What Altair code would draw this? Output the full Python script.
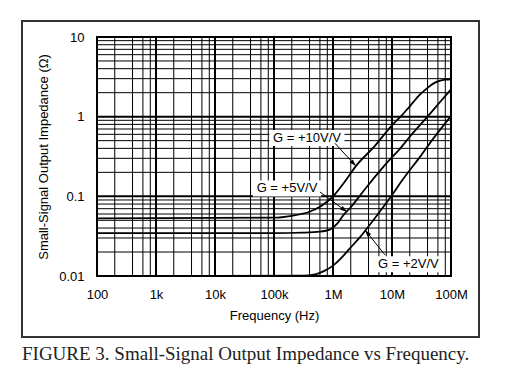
import json
import math
import altair as alt
import pandas as pd

# ---------------- data ----------------
freq_g10 = [1e2, 1e5, 2e5, 4e5, 6e5, 8e5, 1e6, 1.5e6, 2.5e6, 5e6, 1e7, 1.4e7, 2e7, 3e7, 4e7, 5e7, 6e7, 8e7, 1e8]
z_g10 = [0.053, 0.054, 0.057, 0.064, 0.074, 0.086, 0.100, 0.145, 0.245, 0.42, 0.78, 1.0, 1.35, 1.9, 2.3, 2.6, 2.78, 2.92, 2.95]

freq_g5 = [1e2, 1e5, 3e5, 6e5, 9e5, 1.2e6, 1.5e6, 2e6, 2.8e6, 4e6, 6.3e6, 1e7, 1.3e7, 2e7, 4e7, 6e7, 1e8]
z_g5 = [0.0345, 0.0345, 0.035, 0.036, 0.0385, 0.046, 0.058, 0.073, 0.1, 0.14, 0.21, 0.31, 0.38, 0.56, 1.0, 1.42, 2.2]

freq_g2 = [1e2, 3e5, 5e5, 7e5, 1e6, 1.4e6, 1.8e6, 2.9e6, 5e6, 1e7, 1.5e7, 3e7, 5e7, 1e8]
z_g2 = [0.0100, 0.0101, 0.0105, 0.0115, 0.0135, 0.017, 0.021, 0.031, 0.052, 0.104, 0.16, 0.315, 0.53, 1.02]

gain_names = ["G = +10V/V", "G = +5V/V", "G = +2V/V"]

x_tick_values = [1e2, 1e3, 1e4, 1e5, 1e6, 1e7, 1e8]
x_tick_labels = ["100", "1k", "10k", "100k", "1M", "10M", "100M"]
y_tick_values = [0.01, 0.1, 1, 10]
y_tick_labels = ["0.01", "0.1", "1", "10"]

x_title = "Frequency (Hz)"
y_title = "Small-Signal Output Impedance (\u03a9)"
caption = "FIGURE 3. Small-Signal Output Impedance vs Frequency."

# annotation anchors (in data units)
label_f = [3.62e5, 1.66e5, 1.89e7]
label_z = [0.541, 0.1256, 0.014]
arrow_start_f = [1.08e6, 6.0e5, 7.6e6]
arrow_start_z = [0.463, 0.1135, 0.0184]
arrow_end_f = [2.45e6, 1.73e6, 3.48e6]
arrow_end_z = [0.240, 0.0637, 0.0379]

# ---------------- tables ----------------
rows = []
for name, fs, zs in zip(gain_names, [freq_g10, freq_g5, freq_g2], [z_g10, z_g5, z_g2]):
    for f, z in zip(fs, zs):
        rows.append({"gain": name, "f": f, "z": z})
curves = pd.DataFrame(rows)

minor_x = [d * m for d in x_tick_values[:-1] for m in (2, 4, 6, 8)]
minor_y = [d * m for d in y_tick_values[:-1] for m in range(2, 10)]

grid_minor_x = pd.DataFrame({"f": minor_x})
grid_minor_y = pd.DataFrame({"z": minor_y})
grid_major_x = pd.DataFrame({"f": x_tick_values})
grid_major_y = pd.DataFrame({"z": y_tick_values})


def box_path(text):
    hw = (len(text) * 6.9 + 6) / 2 / 50.0
    hh = 8.0 / 50.0
    return f"M{-hw:.3f},{-hh:.3f}H{hw:.3f}V{hh:.3f}H{-hw:.3f}Z"


labels = pd.DataFrame({
    "text": gain_names, "f": label_f, "z": label_z,
    "box": [box_path(t) for t in gain_names],
})


def px(f):
    return (math.log10(f) - 2) * 59.0


def py(z):
    return (1 - math.log10(z)) * 79.7


angles = []
for sf, sz, ef, ez in zip(arrow_start_f, arrow_start_z, arrow_end_f, arrow_end_z):
    dx = px(ef) - px(sf)
    dy = py(ez) - py(sz)
    angles.append((math.degrees(math.atan2(dx, -dy)) + 360) % 360)

arrows = pd.DataFrame({
    "f": arrow_start_f, "z": arrow_start_z,
    "f2": arrow_end_f, "z2": arrow_end_z, "ang": angles,
})
one = pd.DataFrame({"k": [0]})

# ---------------- scales ----------------
xs = alt.Scale(type="log", domain=[1e2, 1e8], nice=False)
ys = alt.Scale(type="log", domain=[0.01, 10], nice=False)

x_expr = json.dumps(x_tick_labels) + "[round(log(datum.value)/LN10)-2]"
y_expr = json.dumps(y_tick_labels) + "[round(log(datum.value)/LN10)+2]"

FONT = "Liberation Sans"

x_axis = alt.Axis(values=x_tick_values, labelExpr=x_expr, title=x_title, grid=False, domain=False,
                  ticks=False, labelFlush=False, labelOverlap=False, labelPadding=12, titlePadding=8)
y_axis = alt.Axis(values=y_tick_values, labelExpr=y_expr, title=y_title, grid=False, domain=False,
                  ticks=False, labelOverlap=False, labelPadding=13, titlePadding=8)

curve_layer = alt.Chart(curves).mark_line(color="black", strokeWidth=1.8, interpolate="monotone").encode(
    x=alt.X("f:Q", scale=xs, axis=x_axis),
    y=alt.Y("z:Q", scale=ys, axis=y_axis),
    detail="gain:N",
)

minor_x_layer = alt.Chart(grid_minor_x).mark_rule(color="black", strokeWidth=1).encode(
    x=alt.X("f:Q", scale=xs))
minor_y_layer = alt.Chart(grid_minor_y).mark_rule(color="black", strokeWidth=1).encode(
    y=alt.Y("z:Q", scale=ys))
major_x_layer = alt.Chart(grid_major_x).mark_rule(color="black", strokeWidth=2).encode(
    x=alt.X("f:Q", scale=xs))
major_y_layer = alt.Chart(grid_major_y).mark_rule(color="black", strokeWidth=2).encode(
    y=alt.Y("z:Q", scale=ys))

box_layer = alt.Chart(labels).mark_point(filled=True, fill="white", opacity=1, strokeWidth=0).encode(
    x=alt.X("f:Q", scale=xs), y=alt.Y("z:Q", scale=ys),
    shape=alt.Shape("box:N", scale=None), size=alt.value(10000))
text_layer = alt.Chart(labels).mark_text(font=FONT, fontSize=13, color="black",
                                          align="center", baseline="middle").encode(
    x=alt.X("f:Q", scale=xs), y=alt.Y("z:Q", scale=ys), text="text:N")

arrow_line = alt.Chart(arrows).mark_rule(color="black", strokeWidth=1).encode(
    x=alt.X("f:Q", scale=xs), y=alt.Y("z:Q", scale=ys), x2="f2:Q", y2="z2:Q")
arrow_head = alt.Chart(arrows).mark_point(filled=True, fill="black", opacity=1, strokeWidth=0,
                                          shape="M0,0L-0.32,1L0.32,1Z").encode(
    x=alt.X("f2:Q", scale=xs), y=alt.Y("z2:Q", scale=ys),
    angle=alt.Angle("ang:Q", scale=None), size=alt.value(196))

frame = alt.Chart(one).mark_rect(fill="white", fillOpacity=0, stroke="#333333", strokeWidth=2).encode(
    x=alt.value(-75), x2=alt.value(382), y=alt.value(-16), y2=alt.value(300))
cap = alt.Chart(one).mark_text(font="Liberation Serif", fontSize=19, color="#222222",
                               align="left", baseline="alphabetic").encode(
    x=alt.value(-75), y=alt.value(323), text=alt.value(caption))

chart = alt.layer(
    curve_layer, minor_x_layer, minor_y_layer, major_x_layer, major_y_layer,
    box_layer, text_layer, arrow_line, arrow_head, frame, cap
).properties(
    width=354, height=239,
    autosize=alt.AutoSizeParams(type="none"),
    padding={"left": 89, "top": 29, "right": 49, "bottom": 100},
).configure_view(
    stroke="black", strokeWidth=2
).configure_axis(
    labelFont=FONT, titleFont=FONT, labelFontSize=13, titleFontSize=13,
    labelColor="black", titleColor="black", titleFontWeight="normal"
)

chart.save("out.html", embed_options={"renderer": "svg", "actions": False})
